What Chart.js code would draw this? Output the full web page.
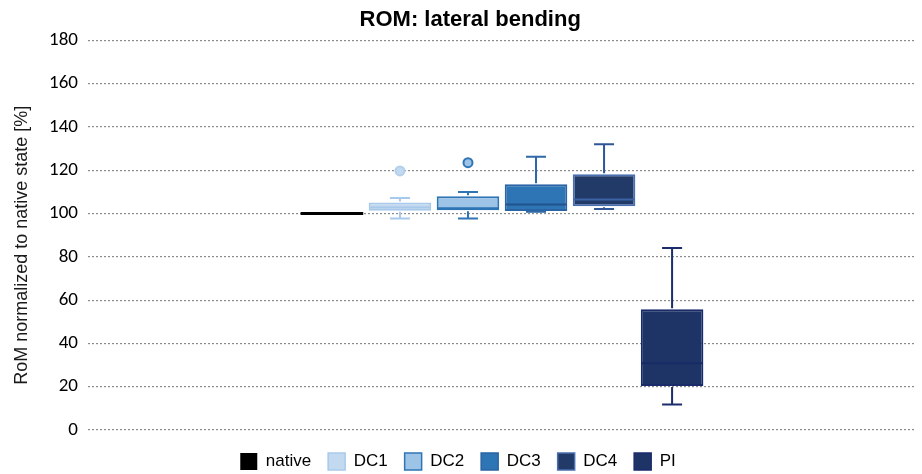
<!DOCTYPE html>
<html>
<head>
<meta charset="utf-8">
<script src="https://cdn.jsdelivr.net/npm/chart.js@4.4.1/dist/chart.umd.min.js"></script>
<style>
  html, body { margin: 0; padding: 0; background: #ffffff; }
  #wrap { width: 922px; height: 474px; position: relative; }
</style>
</head>
<body>
<div id="wrap"><canvas id="chart"></canvas></div>
<script>
// Range of motion in lateral bending, normalized to the native state (%)
const groups = ['native', 'DC1', 'DC2', 'DC3', 'DC4', 'PI'];
const whiskerLow = [100, 97.7, 97.7, 100.8, 102.1, 11.8];
const quartile1 = [100, 101.3, 101.5, 101.2, 103.4, 20.3];
const medians = [100, 102.8, 102.4, 104.2, 106.5, 30.8];
const quartile3 = [100, 105.1, 108.0, 113.5, 118.2, 55.8];
const whiskerHigh = [100, 107.2, 110.0, 126.2, 132.0, 84.1];
const outliers = [[], [119.7], [123.5], [], [], []];
const yTicks = [0, 20, 40, 60, 80, 100, 120, 140, 160, 180];

// Styling per group
const fills = ['#000000', '#c2d9ef', '#9dc3e6', '#2e75b6', '#213a68', '#1f3466'];
const edges = ['#000000', '#a9c9eb', '#2e75b6', '#2a64a4', '#4a6fb0', '#1a2b6c'];
const whiskerColors = ['#000000', '#a9c9eb', '#2e75b6', '#2e68a8', '#2f5597', '#1b2d6b'];
const medianColors = ['#000000', '#a9c9eb', '#2e75b6', '#22538c', '#3d62a4', '#172a66'];

const datasets = groups.map((g, i) => ({
  label: g,
  data: [[quartile1[i], quartile3[i]]],
  backgroundColor: fills[i],
  borderColor: edges[i],
  borderWidth: i === 0 ? 0 : 2,
  borderSkipped: false,
  categoryPercentage: 0.493,
  barPercentage: 0.92
}));

// Whiskers, caps, medians and outlier points drawn from the same scale
const boxExtras = {
  id: 'boxExtras',
  afterDatasetsDraw(chart) {
    const y = chart.scales.y;
    const ctx = chart.ctx;
    ctx.save();
    groups.forEach((g, i) => {
      const bar = chart.getDatasetMeta(i).data[0];
      if (!bar) return;
      const cx = bar.x;
      const half = bar.width / 2;
      const capHalf = 10;
      const yMin = y.getPixelForValue(whiskerLow[i]);
      const yQ1 = y.getPixelForValue(quartile1[i]);
      const yMed = y.getPixelForValue(medians[i]);
      const yQ3 = y.getPixelForValue(quartile3[i]);
      const yMax = y.getPixelForValue(whiskerHigh[i]);
      ctx.strokeStyle = whiskerColors[i];
      ctx.lineWidth = 2;
      ctx.beginPath();
      if (yMax < yQ3) {
        ctx.moveTo(cx, yQ3 - 1); ctx.lineTo(cx, yMax);
        ctx.moveTo(cx - capHalf, yMax); ctx.lineTo(cx + capHalf, yMax);
      }
      if (yMin > yQ1) {
        ctx.moveTo(cx, yQ1 + 1); ctx.lineTo(cx, yMin);
        ctx.moveTo(cx - capHalf, yMin); ctx.lineTo(cx + capHalf, yMin);
      }
      ctx.stroke();
      // median
      ctx.strokeStyle = medianColors[i];
      ctx.lineWidth = i === 0 ? 3 : 2;
      ctx.beginPath();
      ctx.moveTo(cx - half + (i === 0 ? 0 : 1), yMed);
      ctx.lineTo(cx + half - (i === 0 ? 0 : 1), yMed);
      ctx.stroke();
      // outliers
      outliers[i].forEach(v => {
        const py = y.getPixelForValue(v);
        ctx.beginPath();
        ctx.arc(cx, py, 4.5, 0, Math.PI * 2);
        ctx.fillStyle = fills[i];
        ctx.fill();
        ctx.strokeStyle = i === 1 ? '#b4d0ee' : '#2e75b6';
        ctx.lineWidth = 2;
        ctx.stroke();
      });
    });
    ctx.restore();
  }
};

new Chart(document.getElementById('chart'), {
  type: 'bar',
  data: { labels: [''], datasets },
  plugins: [boxExtras],
  options: {
    responsive: true,
    maintainAspectRatio: false,
    animation: false,
    layout: { padding: { left: 0, right: 6, top: 0, bottom: -6 } },
    plugins: {
      tooltip: { enabled: false },
      title: {
        display: true,
        text: '    ROM: lateral bending',
        color: '#000000',
        font: { family: '"Liberation Sans", Arial, sans-serif', size: 22, weight: 'bold' },
        padding: { top: 7, bottom: 7 }
      },
      legend: {
        position: 'bottom',
        title: { display: true, text: ' ', color: '#ffffff', font: { size: 5 }, padding: 0 },
        labels: {
          boxWidth: 17,
          boxHeight: 17,
          padding: 17,
          color: '#000000',
          font: { family: '"Liberation Sans", Arial, sans-serif', size: 17 },
          generateLabels(chart) {
            return groups.map((g, i) => ({
              text: g,
              fillStyle: fills[i],
              strokeStyle: edges[i],
              fontColor: '#000000',
              lineWidth: i === 0 ? 0 : 1.5,
              datasetIndex: i,
              hidden: false
            }));
          }
        }
      }
    },
    scales: {
      x: { display: false, stacked: false },
      y: {
        min: 0,
        max: 180,
        afterBuildTicks(scale) {
          scale.ticks = yTicks.map(v => ({ value: v }));
        },
        afterFit(scale) { scale.width = 88; },
        ticks: {
          color: '#000000',
          padding: 10,
          font: { family: 'Carlito, Lato, sans-serif', size: 19 }
        },
        grid: { color: '#8a8a8a', lineWidth: 1.2, drawTicks: false },
        border: { display: false, dash: [2, 2] },
        title: {
          display: true,
          text: 'RoM normalized to native state [%]    ',
          color: '#1a1a1a',
          font: { family: '"Liberation Sans", Arial, sans-serif', size: 18 },
          padding: { top: 11, bottom: 0 }
        }
      }
    }
  }
});
</script>
</body>
</html>
